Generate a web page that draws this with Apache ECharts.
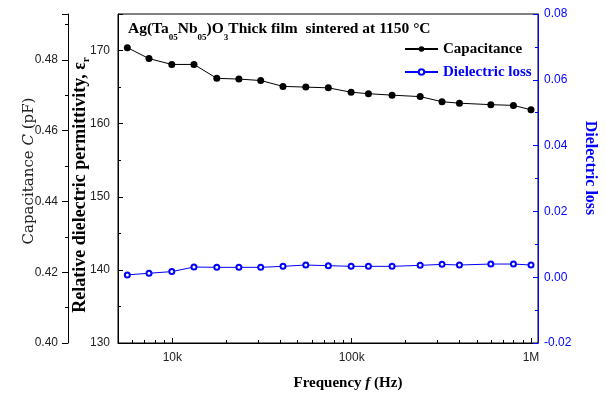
<!DOCTYPE html>
<html>
<head>
<meta charset="utf-8">
<script src="https://cdn.jsdelivr.net/npm/echarts@6/dist/echarts.min.js"></script>
<style>
html, body { margin: 0; padding: 0; background: #fff; }
#chart { width: 606px; height: 394px; }
</style>
</head>
<body>
<div id="chart"></div>
<script>
// frequency points (Hz)
var freq = [5610, 7410, 9930, 13200, 17700, 23500, 31100, 41400, 55500, 74100,
            99300, 124000, 168000, 241000, 319000, 399000, 597000, 798000, 1000000];
// relative permittivity (capacitance curve)
var permittivity = [170.4, 168.9, 168.1, 168.1, 166.2, 166.1, 165.9, 165.1, 165.0, 164.9,
                    164.3, 164.1, 163.9, 163.7, 163.0, 162.8, 162.6, 162.5, 161.9];
// dielectric loss
var loss = [0.0007, 0.0012, 0.0017, 0.0031, 0.0030, 0.0030, 0.0030, 0.0033, 0.0037, 0.0035,
            0.0033, 0.0033, 0.0033, 0.0036, 0.0039, 0.0037, 0.0040, 0.0040, 0.0037];

var xMajor = [10000, 100000, 1000000];
var xLabels = ['10k', '100k', '1M'];
var xMinor = [6000, 7000, 8000, 9000, 20000, 30000, 40000, 50000, 60000, 70000, 80000, 90000,
              200000, 300000, 400000, 500000, 600000, 700000, 800000, 900000];

var majorLog = xMajor.map(function (v) { return Math.log10(v); });
var minorLog = xMinor.map(function (v) { return Math.log10(v); });
var xMin = 3.697, xMax = 6.039;

var chart = document.getElementById('chart');
var myChart = echarts.init(chart);

var serif = 'Liberation Serif';
var sans = 'Liberation Sans';
var blue = '#0000ff';

option = {
    animation: false,
    backgroundColor: '#fff',
    grid: {
        left: 118, right: 68, top: 14, bottom: 51,
        show: true, borderColor: '#000', borderWidth: 1
    },
    legend: {
        orient: 'vertical',
        left: 404,
        top: 41,
        padding: 0,
        itemWidth: 33,
        itemHeight: 7,
        itemGap: 7,
        textStyle: { fontFamily: serif, fontWeight: 'bold', fontSize: 15, lineHeight: 16, color: '#000' },
        data: [
            { name: 'Capacitance' },
            { name: 'Dielectric loss', textStyle: { color: blue } }
        ]
    },
    xAxis: [{
        type: 'value',
        min: xMin, max: xMax,
        position: 'bottom',
        axisLine: { onZero: false, lineStyle: { color: '#000', width: 1 } },
        axisTick: { inside: true, length: 5, customValues: majorLog, lineStyle: { color: '#000' } },
        axisLabel: {
            customValues: majorLog,
            margin: 9,
            color: '#222', fontFamily: sans, fontSize: 12,
            formatter: function (v) {
                for (var i = 0; i < majorLog.length; i++) {
                    if (Math.abs(v - majorLog[i]) < 1e-6) return xLabels[i];
                }
                return '';
            }
        },
        splitLine: { show: false }
    }, {
        type: 'value',
        min: xMin, max: xMax,
        position: 'bottom',
        axisLine: { show: false, onZero: false },
        axisTick: { inside: true, length: 3, customValues: minorLog, lineStyle: { color: '#000' } },
        axisLabel: { show: false },
        splitLine: { show: false }
    }],
    yAxis: [{
        type: 'value',
        min: 130, max: 175, interval: 10,
        position: 'left',
        axisLine: { show: true, onZero: false, lineStyle: { color: '#000' } },
        axisTick: { inside: true, length: 5, lineStyle: { color: '#000' } },
        minorTick: { show: true, splitNumber: 2, length: 3, lineStyle: { color: '#000' } },
        axisLabel: { showMaxLabel: false, margin: 8, color: '#222', fontFamily: sans, fontSize: 12 },
        splitLine: { show: false }
    }, {
        type: 'value',
        min: 0.40, max: 0.493, interval: 0.02,
        position: 'left',
        offset: 50,
        axisLine: { show: true, onZero: false, lineStyle: { color: '#000' } },
        axisTick: { inside: false, length: 6, lineStyle: { color: '#000' } },
        minorTick: { show: true, splitNumber: 2, length: 3, lineStyle: { color: '#000' } },
        axisLabel: {
            showMaxLabel: false, margin: 10, color: '#222', fontFamily: sans, fontSize: 12,
            formatter: function (v) { return v.toFixed(2); }
        },
        splitLine: { show: false }
    }, {
        type: 'value',
        min: -0.02, max: 0.08, interval: 0.02,
        position: 'right',
        axisLine: { show: true, onZero: false, lineStyle: { color: blue } },
        axisTick: { inside: true, length: 5, lineStyle: { color: blue } },
        minorTick: { show: true, splitNumber: 2, length: 3, lineStyle: { color: blue } },
        axisLabel: {
            margin: 6, color: blue, fontFamily: sans, fontSize: 12,
            formatter: function (v) { return v.toFixed(2); }
        },
        splitLine: { show: false }
    }],
    graphic: [{
        type: 'text',
        left: 128, top: 15,
        style: {
            text: 'Ag(Ta{s|05}Nb{s|05})O{s|3}Thick film  sintered at 1150 °C',
            fontFamily: serif, fontWeight: 'bold', fontSize: 15.5, lineHeight: 27, fill: '#000',
            rich: {
                s: { fontFamily: serif, fontWeight: 'bold', fontSize: 9, lineHeight: 9, verticalAlign: 'bottom', fill: '#000' }
            }
        }
    }, {
        type: 'text',
        x: 29, y: 171, rotation: Math.PI / 2,
        style: {
            text: 'Capacitance {i|C} (pF)',
            fontFamily: 'DejaVu Serif', fontSize: 15, fill: '#222',
            align: 'center', verticalAlign: 'middle',
            rich: {
                i: { fontFamily: 'DejaVu Serif', fontStyle: 'italic', fontSize: 15, fill: '#222' }
            }
        }
    }, {
        type: 'text',
        x: 80, y: 185, rotation: Math.PI / 2,
        style: {
            text: 'Relative dielectric permittivity, ε{s|r}',
            fontFamily: serif, fontWeight: 'bold', fontSize: 18, lineHeight: 24, fill: '#000',
            align: 'center', verticalAlign: 'middle',
            rich: {
                s: { fontFamily: serif, fontWeight: 'bold', fontSize: 11, lineHeight: 11, verticalAlign: 'bottom', fill: '#000' }
            }
        }
    }, {
        type: 'text',
        x: 590, y: 168, rotation: -Math.PI / 2,
        style: {
            text: 'Dielectric loss',
            fontFamily: serif, fontWeight: 'bold', fontSize: 16, fill: blue,
            align: 'center', verticalAlign: 'middle'
        }
    }, {
        type: 'text',
        x: 348, y: 383,
        style: {
            text: 'Frequency {i|f} (Hz)',
            fontFamily: serif, fontWeight: 'bold', fontSize: 15, fill: '#000',
            align: 'center', verticalAlign: 'middle',
            rich: {
                i: { fontFamily: serif, fontWeight: 'bold', fontStyle: 'italic', fontSize: 15, fill: '#000' }
            }
        }
    }],
    series: [{
        name: 'Capacitance',
        type: 'line',
        xAxisIndex: 0,
        yAxisIndex: 0,
        symbol: 'circle',
        symbolSize: 7,
        itemStyle: { color: '#000' },
        lineStyle: { color: '#000', width: 1 },
        data: freq.map(function (f, i) { return [Math.log10(f), permittivity[i]]; })
    }, {
        name: 'Dielectric loss',
        type: 'line',
        xAxisIndex: 0,
        yAxisIndex: 2,
        symbol: 'emptyCircle',
        symbolSize: 5,
        itemStyle: { color: blue, borderWidth: 1 },
        lineStyle: { color: blue, width: 1 },
        data: freq.map(function (f, i) { return [Math.log10(f), loss[i]]; })
    }]
};

myChart.setOption(option);
</script>
</body>
</html>
